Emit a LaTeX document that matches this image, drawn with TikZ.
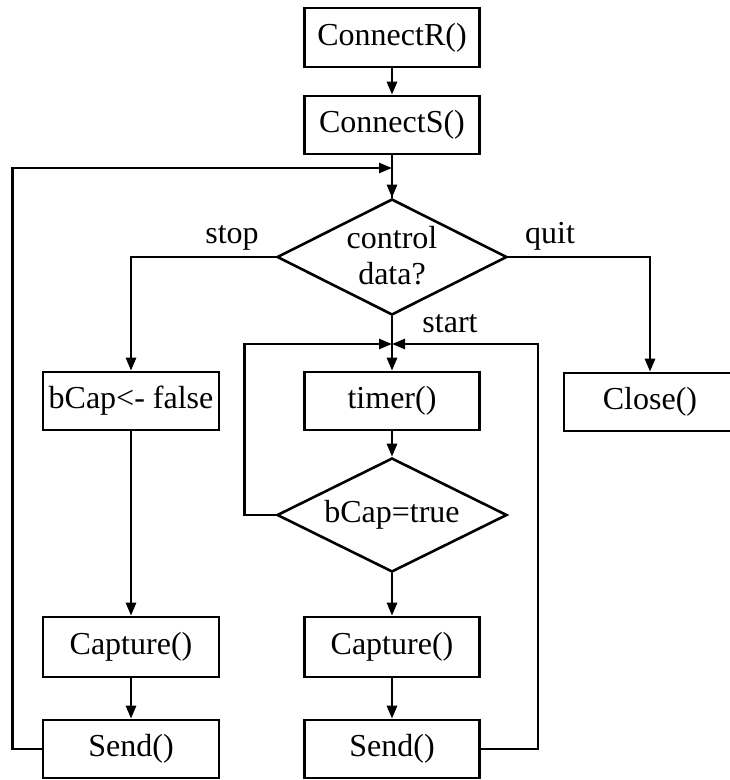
\documentclass[tikz,border=0pt]{standalone}
\usepackage{fontspec}
\setmainfont{Liberation Serif}
\usetikzlibrary{shapes.geometric,arrows.meta}
\tikzset{
  box/.style={draw, rectangle, line width=2.6pt, inner sep=0pt,
    minimum width=175pt, minimum height=58pt},
  dia/.style={draw, diamond, line width=2.6pt, inner sep=0pt, aspect=2,
    minimum width=230pt, minimum height=116pt},
  txt/.style={inner sep=0pt, align=center},
  arr/.style={line width=2.6pt, -{Triangle[length=13pt,width=10pt]}},
  ln/.style={line width=2.6pt},
}
\begin{document}
\begin{tikzpicture}[x=1pt, y=-1pt,
  every node/.append style={font=\fontsize{32}{36}\selectfont}]
\clip (0,0) rectangle (730,780);
\useasboundingbox (0,0) rectangle (730,780);

% main column
\node[box, minimum height=59pt] (cr) at (392,37.5) {ConnectR()};
\node[box] (cs) at (392,125) {ConnectS()};
\node[dia] (d1) at (392,257) {};
\node[txt] (d1t) at (392,256) {control\\data?};

% stop branch
\node[box, minimum width=176pt] (bc) at (131,401) {bCap<- false};
\node[box, minimum height=60pt, minimum width=176pt] (capl) at (131,647) {Capture()};
\node[box, minimum width=176pt] (sndl) at (131,749) {Send()};

% start branch
\node[box] (tm) at (392,401) {timer()};
\node[dia, minimum height=114pt] (d2) at (392,515) {};
\node[txt] (d2t) at (392,515) {bCap=true};
\node[box, minimum height=60pt] (capm) at (392,647) {Capture()};
\node[box] (sndm) at (392,749) {Send()};

% quit branch
\node[box, minimum width=172pt] (cl) at (650,402) {Close()};

% branch labels
\node[txt, anchor=base] (lstop) at (232,243) {stop};
\node[txt, anchor=base] (lquit) at (550,243) {quit};
\node[txt, anchor=base] (lstart) at (450,332) {start};

% junction points on the main column
\coordinate (j1) at (392,168);
\coordinate (j2) at (392,344);

% connectors
\draw[arr] (cr) -- (cs);
\draw[ln] (cs.south) -- (d1.north);
\draw[arr] (sndl.west) -- ++(-29,0) |- (j1);
\draw[arr] (j1) -- (d1.north);

\draw[arr] (d1.west) -| (bc.north);
\draw[arr] (bc) -- (capl);
\draw[arr] (capl) -- (sndl);

\draw[arr] (d1.east) -| (cl.north);

\draw[arr] (d1.south) -- (tm.north);
\draw[arr] (d2.west) -- ++(-31,0) |- (j2);
\draw[arr] (sndm.east) -- ++(57,0) |- (j2);
\draw[arr] (tm) -- (d2);
\draw[arr] (d2) -- (capm);
\draw[arr] (capm) -- (sndm);
\end{tikzpicture}
\end{document}
